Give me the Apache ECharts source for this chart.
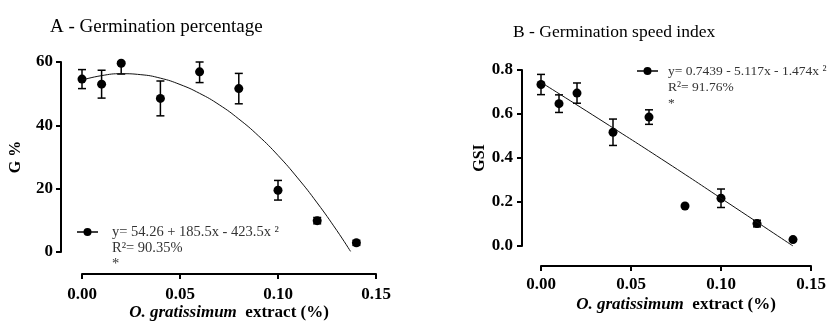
<!DOCTYPE html>
<html>
<head>
<meta charset="utf-8">
<script src="https://cdn.jsdelivr.net/npm/echarts@6/dist/echarts.min.js"></script>
<style>
  html, body { margin: 0; padding: 0; background: #fff; }
  #chart { width: 830px; height: 322px; }
</style>
</head>
<body>
<div id="chart"></div>
<script>
// ── Data ──
var doses = [0, 0.01, 0.02, 0.04, 0.06, 0.08, 0.10, 0.12, 0.14];
var germMean = [54.6, 53.0, 59.6, 48.5, 56.9, 51.6, 19.5, 9.9, 2.9];
var germSem = [3.0, 4.4, 3.4, 5.5, 3.4, 4.8, 3.1, 1.0, 0.8];
var gsiMean = [0.734, 0.647, 0.695, 0.517, 0.586, 0.182, 0.217, 0.102, 0.029];
var gsiSem = [0.046, 0.040, 0.046, 0.060, 0.033, 0.004, 0.042, 0.015, 0.005];

// fitted curves
var germFitX = [0, 0.01, 0.02, 0.03, 0.04, 0.05, 0.06, 0.07, 0.08, 0.09, 0.10, 0.11, 0.12, 0.13, 0.137];
var germFitY = [54.3, 55.7, 56.3, 56.0, 54.9, 52.9, 50.1, 46.5, 42.0, 36.7, 30.5, 23.4, 15.5, 6.8, 0.2];
var gsiFitX = [0, 0.035, 0.07, 0.105, 0.14];
var gsiFitY = [0.744, 0.563, 0.379, 0.190, 0.0];

var germTitle = 'A - Germination percentage';
var gsiTitle = 'B - Germination speed index';
var germLegend = 'y= 54.26 + 185.5x - 423.5x \u00b2\nR\u00b2= 90.35%\n*';
var gsiLegend = 'y= 0.7439 - 5.117x - 1.474x \u00b2\nR\u00b2= 91.76%\n*';
var xName = '{i|O. gratissimum}  extract (%)';

var serif = 'Liberation Serif';
var ink = '#000';

function pairs(xs, ys) { return xs.map(function (x, i) { return [x, ys[i]]; }); }
function triples(xs, ys, es) { return xs.map(function (x, i) { return [x, ys[i], es[i]]; }); }

// error bars, clipped at the axis top like the original
function errorBars(yMax) {
  return function (params, api) {
    var x = api.value(0), m = api.value(1), s = api.value(2);
    var top = api.coord([x, Math.min(m + s, yMax)]);
    var bot = api.coord([x, m - s]);
    var w = 4;
    var st = { stroke: ink, lineWidth: 1.5 };
    return { type: 'group', children: [
      { type: 'line', shape: { x1: top[0], y1: top[1], x2: bot[0], y2: bot[1] }, style: st },
      { type: 'line', shape: { x1: top[0] - w, y1: top[1], x2: top[0] + w, y2: top[1] }, style: st },
      { type: 'line', shape: { x1: bot[0] - w, y1: bot[1], x2: bot[0] + w, y2: bot[1] }, style: st }
    ] };
  };
}

function xAxis(idx, offset, margin, gap) {
  return {
    type: 'value', gridIndex: idx, min: 0, max: 0.15, interval: 0.05, offset: offset,
    axisLine: { show: true, onZero: false, lineStyle: { color: ink, width: 2 } },
    axisTick: { show: true, length: 5, lineStyle: { color: ink, width: 2 } },
    axisLabel: { margin: margin, color: ink, fontFamily: serif, fontWeight: 'bold', fontSize: 17,
      formatter: function (v) { return v.toFixed(2); } },
    splitLine: { show: false },
    name: xName, nameLocation: 'middle', nameGap: gap, nameMoveOverlap: false,
    nameTextStyle: { color: ink, fontFamily: serif, fontWeight: 'bold', fontSize: 17,
      rich: { i: { fontFamily: serif, fontWeight: 'bold', fontStyle: 'italic', fontSize: 17, color: ink } } }
  };
}

function yAxis(idx, max, interval, digits, offset, margin, name, gap) {
  return {
    type: 'value', gridIndex: idx, min: 0, max: max, interval: interval, offset: offset,
    axisLine: { show: true, onZero: false, lineStyle: { color: ink, width: 2 } },
    axisTick: { show: true, length: 5, lineStyle: { color: ink, width: 2 } },
    axisLabel: { margin: margin, color: ink, fontFamily: serif, fontWeight: 'bold', fontSize: 17,
      formatter: function (v) { return v.toFixed(digits); } },
    splitLine: { show: false },
    name: name, nameLocation: 'middle', nameGap: gap, nameMoveOverlap: false,
    nameTextStyle: { color: ink, fontFamily: serif, fontWeight: 'bold', fontSize: 16 }
  };
}

function legendBlock(x, y, text, size, textGap) {
  return [
    { type: 'line', z: 10, shape: { x1: x, y1: y, x2: x + 21, y2: y }, style: { stroke: ink, lineWidth: 1.5 } },
    { type: 'circle', z: 10, shape: { cx: x + 10.5, cy: y, r: 4 }, style: { fill: ink } },
    { type: 'text', z: 10, x: x + textGap, y: y - 8,
      style: { text: text, fill: '#333', fontFamily: serif, fontSize: size, lineHeight: 16, verticalAlign: 'top' } }
  ];
}

var chart = echarts.init(document.getElementById('chart'));
chart.setOption({
  animation: false,
  backgroundColor: '#fff',
  title: [
    { text: germTitle, left: 50, top: 18, padding: 0,
      textStyle: { fontFamily: serif, fontWeight: 'normal', fontSize: 19, color: ink } },
    { text: gsiTitle, left: 513, top: 23, padding: 0,
      textStyle: { fontFamily: serif, fontWeight: 'normal', fontSize: 17.5, color: ink } }
  ],
  grid: [
    { left: 82, right: 454, top: 62, bottom: 70, outerBoundsMode: 'none' },
    { left: 541, right: 19, top: 70, bottom: 76, outerBoundsMode: 'none' }
  ],
  xAxis: [xAxis(0, 22, 12, 30), xAxis(1, 20, 10, 30)],
  yAxis: [
    yAxis(0, 60, 20, 0, 21, 8, 'G %', 37),
    yAxis(1, 0.8, 0.2, 1, 19, 9, 'GSI', 34)
  ],
  graphic: legendBlock(77, 232, germLegend, 14.5, 35).concat(legendBlock(637, 71, gsiLegend, 13.5, 31)),
  series: [
    { type: 'line', xAxisIndex: 0, yAxisIndex: 0, data: pairs(germFitX, germFitY), smooth: true,
      showSymbol: false, lineStyle: { color: '#111', width: 1 }, silent: true },
    { type: 'custom', xAxisIndex: 0, yAxisIndex: 0, data: triples(doses, germMean, germSem),
      renderItem: errorBars(60), encode: { x: 0, y: 1 }, clip: false },
    { type: 'scatter', xAxisIndex: 0, yAxisIndex: 0, data: pairs(doses, germMean),
      symbolSize: 9, itemStyle: { color: ink, opacity: 1 }, clip: false },

    { type: 'line', xAxisIndex: 1, yAxisIndex: 1, data: pairs(gsiFitX, gsiFitY), smooth: true,
      showSymbol: false, lineStyle: { color: '#111', width: 1 }, silent: true },
    { type: 'custom', xAxisIndex: 1, yAxisIndex: 1, data: triples(doses, gsiMean, gsiSem),
      renderItem: errorBars(0.8), encode: { x: 0, y: 1 }, clip: false },
    { type: 'scatter', xAxisIndex: 1, yAxisIndex: 1, data: pairs(doses, gsiMean),
      symbolSize: 9, itemStyle: { color: ink, opacity: 1 }, clip: false }
  ]
});
</script>
</body>
</html>
